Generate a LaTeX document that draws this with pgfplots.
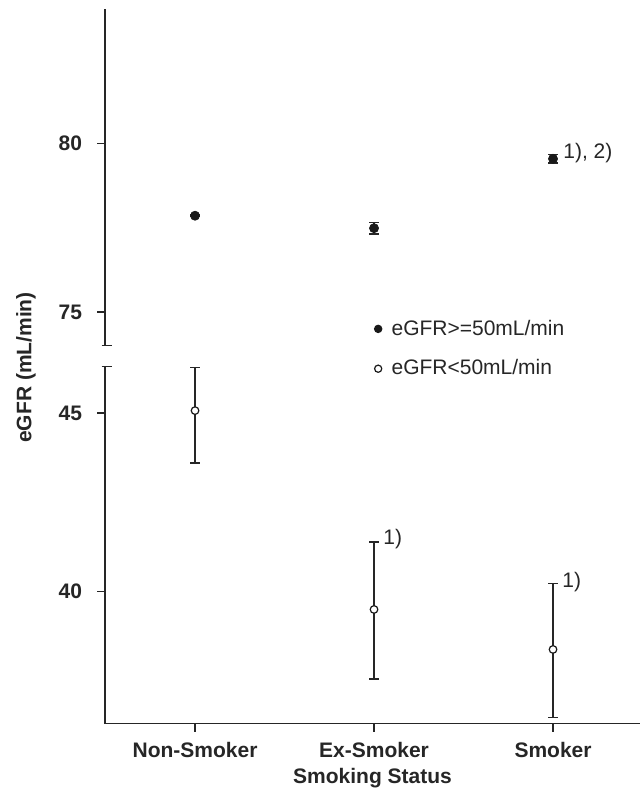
\documentclass[border=0pt]{standalone}
\usepackage{fontspec}
\setmainfont{Liberation Sans}
\usepackage{pgfplots}
\pgfplotsset{compat=1.18}

\pgfplotstableread{
x y e
0 77.86 0.02
1 77.49 0.17
2 79.55 0.13
}\upperdata
\pgfplotstableread{
x y ep em
0 45.07 1.21 1.47
1 39.50 1.89 1.94
2 38.38 1.85 1.91
}\lowerdata

\begin{document}
\begin{tikzpicture}
\pgfplotsset{
 common/.style={
  scale only axis, width=267.5pt,
  xmin=-0.503, xmax=2.486,
  axis line style={line width=0.7pt, black!85},
  tick style={line width=0.7pt, black!85},
  tick align=outside, major tick length=4pt,
  every tick label/.append style={font=\fontsize{10.5}{12}\selectfont\bfseries, text=black!85},
  yticklabel style={xshift=-4pt},
  xticklabel style={yshift=-2pt},
  /pgf/number format/assume math mode=true,
  clip=false,
  error bars/error bar style={line width=0.7pt, black!85},
  error bars/error mark options={rotate=90, mark size=2.4pt, line width=0.8pt, black!85},
 }
}
% upper part
\begin{axis}[common, at={(0,189pt)}, height=168.35pt,
  ymin=74, ymax=84, ytick={75,80},
  axis x line=none, axis y line*=left,
  legend style={at={(rel axis cs:0.502,0.09)}, anchor=north west, draw=none, fill=none,
    inner sep=0pt, font=\fontsize{10.5}{12}\selectfont, text=black!85, row sep=6.8pt,
    /tikz/every odd column/.append style={column sep=2.6pt}},
  legend cell align=left,
  legend image code/.code={\draw[#1] (0pt,0pt) circle (1.8pt);},
]
\addplot[only marks, mark=*, mark size=2.25pt, black!90, forget plot,
  error bars/.cd, y dir=both, y explicit]
  table[x=x, y=y, y error=e] {\upperdata};
\addlegendimage{draw=black!90, fill=black!90, line width=0.6pt}
\addlegendentry{eGFR>=50mL/min}
\addlegendimage{draw=black!90, fill=white, line width=0.6pt}
\addlegendentry{eGFR<50mL/min}
\node[anchor=west, font=\fontsize{10.5}{12}\selectfont, text=black!85, inner sep=0pt] at ([xshift=5pt, yshift=0.5pt]axis cs:2,79.68) {1), 2)};
\draw[line width=0.8pt, black!85] ([xshift=-1.65pt]rel axis cs:0,0) -- ([xshift=3.35pt]rel axis cs:0,0);
\end{axis}
% lower part
\begin{axis}[common, at={(0,0)}, height=178.5pt,
  ymin=36.3, ymax=46.3, ytick={40,45},
  axis x line*=bottom, axis y line*=left,
  xtick={0,1,2}, xticklabels={Non-Smoker, Ex-Smoker, Smoker},
]
\addplot[only marks, mark=*, mark size=1.9pt, mark options={fill=white, draw=black!90, line width=0.6pt},
  error bars/.cd, y dir=both, y explicit]
  table[x=x, y=y, y error plus=ep, y error minus=em] {\lowerdata};
\node[anchor=west, font=\fontsize{10.5}{12}\selectfont, text=black!85, inner sep=0pt] at ([xshift=4.5pt, yshift=1.5pt]axis cs:1,41.39) {1)};
\node[anchor=west, font=\fontsize{10.5}{12}\selectfont, text=black!85, inner sep=0pt] at ([xshift=4.5pt, yshift=0.8pt]axis cs:2,40.23) {1)};
\draw[line width=0.8pt, black!85] ([xshift=-1.65pt]rel axis cs:0,1) -- ([xshift=3.35pt]rel axis cs:0,1);
\end{axis}
\node[rotate=90, font=\fontsize{10.5}{12}\selectfont\bfseries, text=black!85] at (-39.5pt,178.1pt) {eGFR (mL/min)};
\node[anchor=base, font=\fontsize{10.5}{12}\selectfont\bfseries, text=black!85] at (133.75pt,-30pt) {Smoking Status};
\path (-52.5pt,-35.65pt) rectangle (267.5pt,361.85pt);
\end{tikzpicture}
\end{document}
